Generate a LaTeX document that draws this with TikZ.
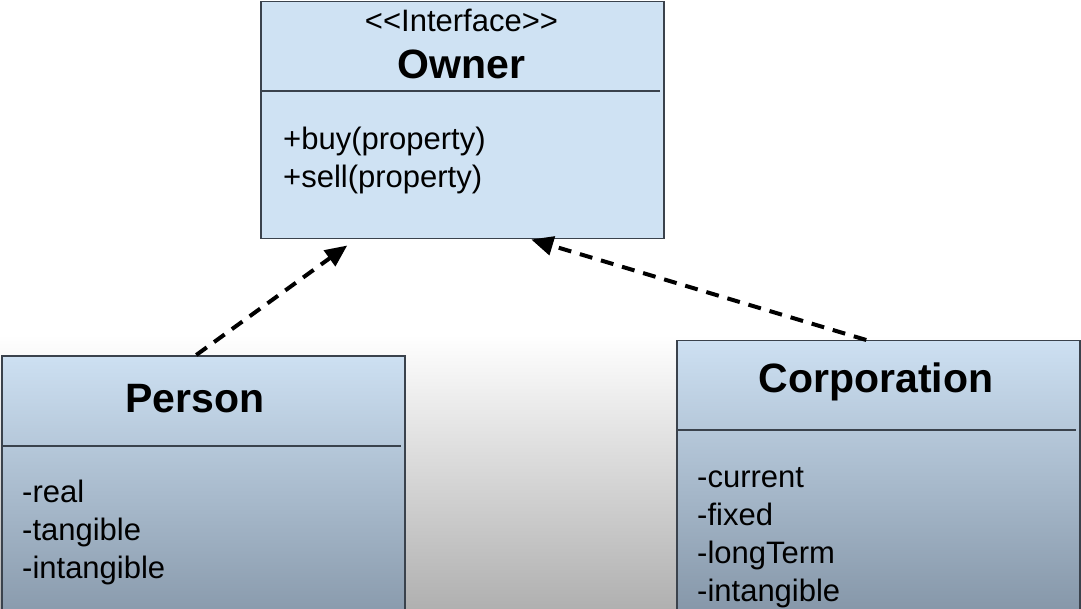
\documentclass[tikz,border=0pt]{standalone}
\usepackage{fontspec}
\setmainfont{Liberation Sans}
\usepackage{tikz}
\usetikzlibrary{arrows.meta,positioning}

\definecolor{boxline}{RGB}{58,66,76}
\definecolor{ifacefill}{RGB}{207,226,243}
\definecolor{classtop}{RGB}{205,224,242}
\definecolor{classbot}{RGB}{126,143,161}
\definecolor{bggrey}{RGB}{176,176,176}

\begin{document}
\begin{tikzpicture}[x=1pt,y=-1pt,>={Triangle[length=22pt,width=19pt]},line join=miter]
\tikzstyle{box}=[draw=boxline,line width=1.5pt,rectangle,anchor=north west,inner sep=0pt,minimum width=403pt]
\tikzstyle{iface}=[box,fill=ifacefill]
\tikzstyle{class}=[box,top color=classtop,bottom color=classbot]
\tikzstyle{title}=[font=\fontsize{41}{46}\selectfont\bfseries,anchor=base,inner sep=0pt]
\tikzstyle{stereo}=[font=\fontsize{31}{36}\selectfont,anchor=base,inner sep=0pt]
\tikzstyle{members}=[font=\fontsize{31}{38}\selectfont,text width=330pt,align=left,anchor=base west,inner sep=0pt]
\tikzstyle{divider}=[draw=boxline,line width=1.5pt]
\tikzstyle{realizes}=[->,line width=4pt,dash pattern=on 13pt off 9pt]

\useasboundingbox (0,0) rectangle (1081,609);
\clip (0,0) rectangle (1081,609);
\fill[top color=white,bottom color=bggrey] (0,335) rectangle (1081,609);

\node[iface,minimum height=237pt] (owner) at (260,1) {};
\node[stereo] (ownerst) at (461.5,32) {<\kern0pt<Interface>\kern0pt>};
\node[title] (ownername) at (461.5,79) {Owner};
\draw[divider] ([yshift=-90pt]owner.north west) -- ([xshift=-5pt,yshift=-90pt]owner.north east);
\node[members] (ownerops) at (283,150) {+buy(property)\\+sell(property)};

\node[class,minimum height=300pt] (person) at (1,355) {};
\node[title] (personname) at (195,412) {Person};
\draw[divider] ([yshift=-91pt]person.north west) -- ([xshift=-5pt,yshift=-91pt]person.north east);
\node[members] (personattr) at (22,502) {-real\\-tangible\\-intangible};

\node[class,minimum height=300pt] (corp) at (676,340) {};
\node[title] (corpname) at (876,392) {Corporation};
\draw[divider] ([yshift=-90pt]corp.north west) -- ([xshift=-5pt,yshift=-90pt]corp.north east);
\node[members] (corpattr) at (697,487) {-current\\-fixed\\-longTerm\\-intangible};

\draw[realizes] ([xshift=-7pt]person.north) -- ([xshift=-115pt,yshift=-6pt]owner.south);
\draw[realizes] ([xshift=-12pt]corp.north) -- ([xshift=69pt]owner.south);
\end{tikzpicture}
\end{document}
